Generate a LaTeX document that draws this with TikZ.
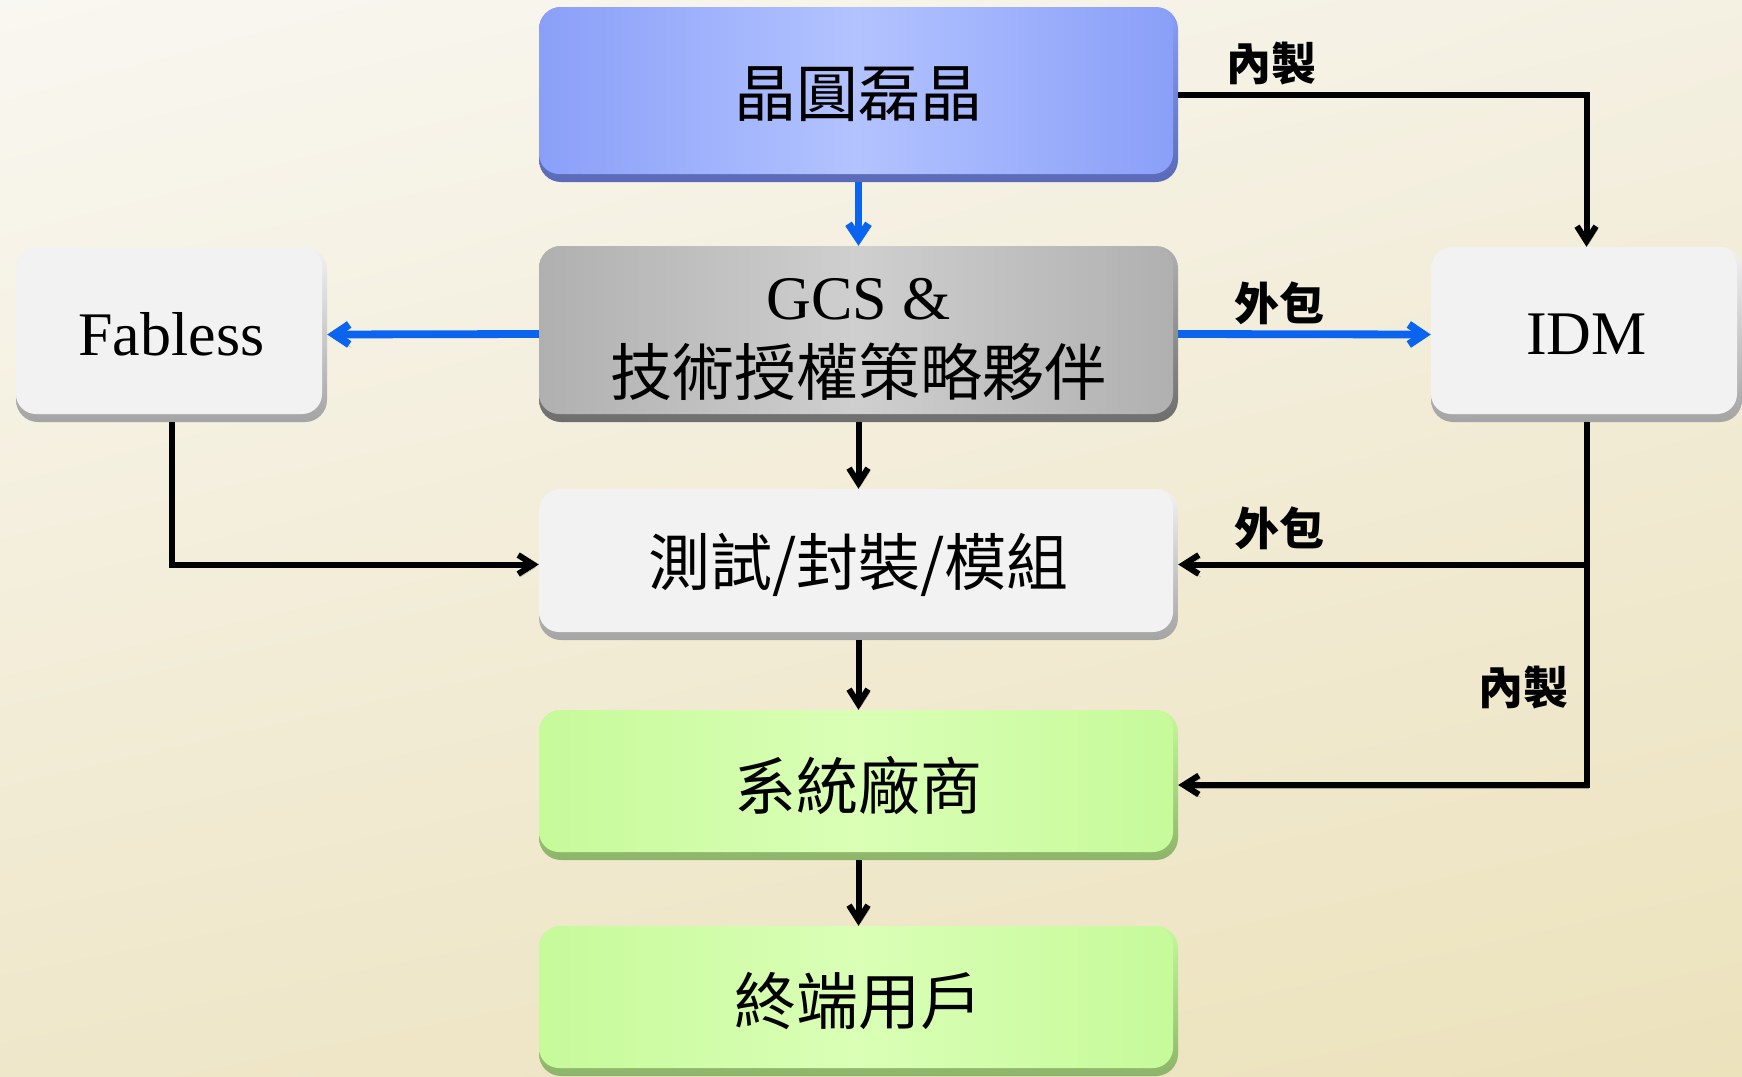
\documentclass[tikz,border=0pt]{standalone}
\usepackage{fontspec}
\setmainfont{Liberation Serif}
\newfontfamily\cjk{Noto Sans CJK TC}
\usetikzlibrary{arrows.meta,shadings}
\definecolor{bgA}{HTML}{F9F7F1}
\definecolor{bgB}{HTML}{F4F0E2}
\definecolor{bgC}{HTML}{EFE7CA}
\definecolor{bgD}{HTML}{ECE2BC}
\definecolor{myblue}{HTML}{0A64F0}
\definecolor{blueEdge}{HTML}{8A9FF8}
\definecolor{blueMid}{HTML}{B3C3FF}
\definecolor{blueBase}{HTML}{5A6AB8}
\definecolor{grayEdge}{HTML}{B0B0B0}
\definecolor{grayMid}{HTML}{CFCFCF}
\definecolor{grayBase}{HTML}{6E6E6E}
\definecolor{whiteFill}{HTML}{F2F2F2}
\definecolor{whiteBase}{HTML}{A4A4A4}
\definecolor{greenEdge}{HTML}{C6FA9A}
\definecolor{greenMid}{HTML}{DAFFB6}
\definecolor{greenBase}{HTML}{8DB46A}
\begin{document}
\begin{tikzpicture}[x=1pt,y=-1pt,
  bx/.style n args={3}{rounded corners=22pt, inner sep=0pt, align=center,
    font=\fontsize{62}{70}\selectfont,
    path picture={
      \shade[top color=#2, bottom color=#1]
        (path picture bounding box.south west) rectangle (path picture bounding box.north east);
      \shade[rounded corners=20pt,left color=#2,right color=#2,middle color=#3]
      ([yshift=8pt]path picture bounding box.south west) rectangle
      ([xshift=-5pt]path picture bounding box.north east);}},
  bigbox/.style={minimum width=639pt},
  smallbox/.style={minimum width=311pt, minimum height=175pt},
  lineshadow/.style={preaction={draw=black, draw opacity=0.28, transform canvas={shift={(2pt,-3pt)}}}},
  ar/.style={lineshadow, line width=6pt, draw=black, -{Straight Barb[length=15pt,width=19pt]}},
  bar/.style={lineshadow, line width=7.8pt, draw=myblue, -{Straight Barb[length=15pt,width=20pt]}},
  lbl/.style={font=\cjk\bfseries\fontsize{45}{50}\selectfont, inner sep=0pt}]
\shade[upper left=bgA, upper right=bgB, lower left=bgC, lower right=bgD]
  (0,0) rectangle (1742,1076);
\useasboundingbox (0,0) rectangle (1742,1076);

\node[bx={blueBase}{blueEdge}{blueMid}, bigbox, minimum height=175pt] (top) at (858.5,94.5) {\cjk 晶圓磊晶};
\node[bx={grayBase}{grayEdge}{grayMid}, bigbox, minimum height=176pt] (gcs) at (858.5,334)
  {\rule{0pt}{52pt}GCS \&\\[6pt]{\cjk 技術授權策略夥伴}};
\node[bx={whiteBase}{whiteFill}{whiteFill}, smallbox] (fab) at (171.5,334.5) {Fabless};
\node[bx={whiteBase}{whiteFill}{whiteFill}, smallbox] (idm) at (1586.5,334.5) {IDM};
\node[bx={whiteBase}{whiteFill}{whiteFill}, bigbox, minimum height=151pt] (test) at (858.5,564.5) {\cjk 測試/封裝/模組};
\node[bx={greenBase}{greenEdge}{greenMid}, bigbox, minimum height=150pt] (sys) at (858.5,785) {\cjk 系統廠商};
\node[bx={greenBase}{greenEdge}{greenMid}, bigbox, minimum height=150pt] (end) at (858.5,1001) {\cjk 終端用戶};

\draw[bar] (top.south) -- (gcs.north);
\draw[bar] (gcs.west) -- (fab.east);
\draw[bar] (gcs.east) -- (idm.west);
\draw[ar] (top.east) -| (idm.north);
\draw[ar] (gcs.south) -- (test.north);
\draw[ar] (test.south) -- (sys.north);
\draw[ar] (sys.south) -- (end.north);
\draw[ar] (fab.south) |- (test.west);
\draw[ar] (idm.south) |- (sys.east);
\coordinate (br) at (idm.south |- test.east);
\draw[ar] (br) -- (test.east);

\node[lbl] (l1) at (1271,64) {內製};
\node[lbl] (l2) at (1279,303) {外包};
\node[lbl] (l3) at (1279,528) {外包};
\node[lbl] (l4) at (1523,688) {內製};
\end{tikzpicture}
\end{document}
